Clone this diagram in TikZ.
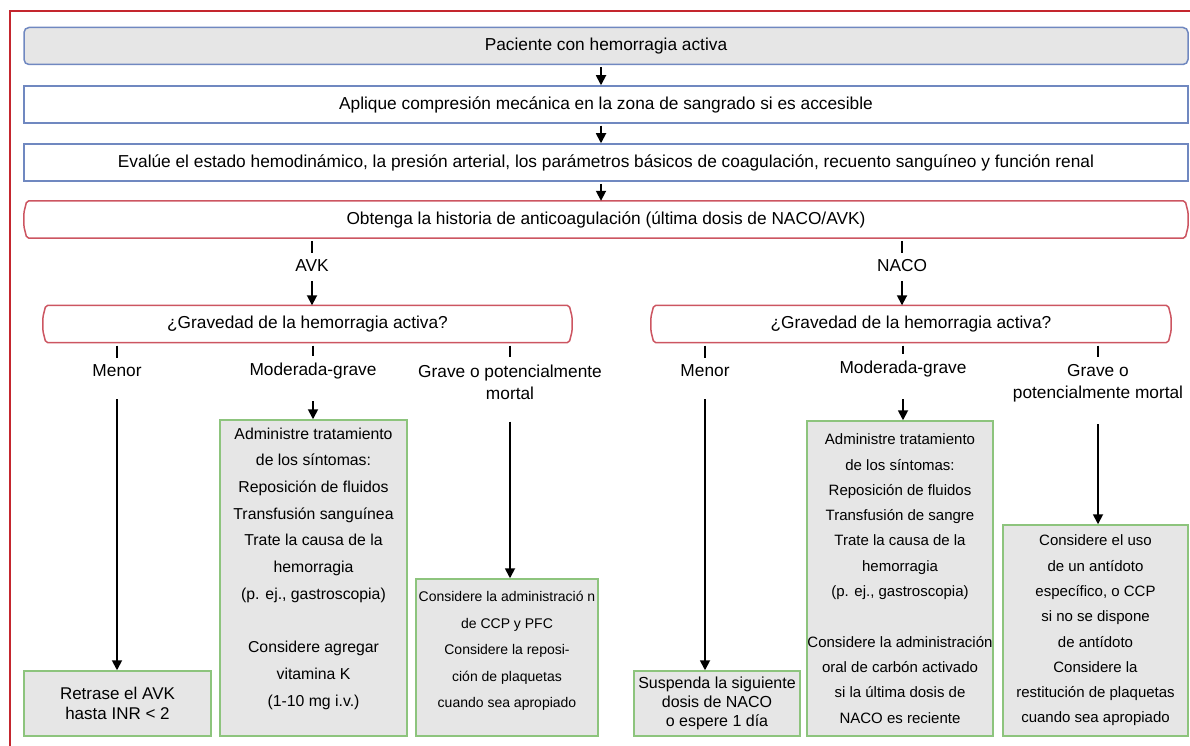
\documentclass[tikz,border=0pt]{standalone}
\usepackage{fontspec}
\setmainfont{Liberation Sans}
\usepackage{tikz}
\usetikzlibrary{arrows.meta}
\definecolor{framered}{HTML}{C4262E}
\definecolor{boxblue}{HTML}{7088C0}
\definecolor{hexred}{HTML}{CC5561}
\definecolor{boxgreen}{HTML}{8DC47D}
\definecolor{boxgray}{HTML}{E6E6E6}
\tikzset{
  topbox/.style = {draw=boxblue, line width=1.5pt, minimum width=1164pt, minimum height=37pt,
    inner sep=0pt, font=\fontsize{17.3}{21}\selectfont},
  hexbox/.style = {minimum height=37pt, inner sep=0pt, font=\fontsize{17.3}{21}\selectfont},
  hexdraw/.style = {draw=hexred, line width=1.5pt, rounded corners=2pt},
  greenbox/.style = {draw=boxgreen, fill=boxgray, line width=1.5pt, inner sep=0pt, align=center,
    font=\fontsize{15}{25.3}\selectfont},
  lbl/.style = {inner sep=4pt, align=center, font=\fontsize{17.3}{22}\selectfont},
  arr/.style = {-{Triangle[length=10pt, width=10pt]}, line width=1.8pt},
  stub/.style = {line width=1.8pt}
}
\newcommand{\hexoutline}[1]{%
  \draw[hexdraw] ([xshift=3pt]#1.north west) -- ([xshift=-3pt]#1.north east)
    -- ([yshift=-12pt]#1.north east) -- ([yshift=12pt]#1.south east)
    -- ([xshift=-3pt]#1.south east) -- ([xshift=3pt]#1.south west)
    -- ([yshift=12pt]#1.south west) -- ([yshift=-12pt]#1.north west) -- cycle;}

\begin{document}
\begin{tikzpicture}[x=1pt, y=-1pt]
    \useasboundingbox (0,0) rectangle (1190,746);
    \draw[framered, line width=1.6pt] (10,746) -- (10,11) -- (1190,11);

    \node[topbox, fill=boxgray, rounded corners=5pt] (patient) at (606,46) {Paciente con hemorragia activa};
    \node[topbox, fill=white] (compress) at (606,104.5) {Aplique compresión mecánica en la zona de sangrado si es accesible};
    \node[topbox, fill=white] (assess) at (606,162.5) {Evalúe el estado hemodinámico, la presión arterial, los parámetros básicos de coagulación, recuento sanguíneo y función renal};
    \node[hexbox, minimum width=1164pt] (history) at (606,219.5) {Obtenga la historia de anticoagulación (última dosis de NACO/AVK)};
    \hexoutline{history}

    \foreach \a/\b in {patient/compress, compress/assess, assess/history}{
      \draw[arr, shorten <=2pt] ([xshift=-5pt]\a.south) -- ([xshift=-5pt]\b.north);
    }

    \node[lbl] (avk) at (312,266) {AVK};
    \node[lbl] (naco) at (902,266) {NACO};

    \node[hexbox, minimum width=529pt] (sevavk) at (307.5,324) {¿Gravedad de la hemorragia activa?};
    \hexoutline{sevavk}
    \node[hexbox, minimum width=520pt] (sevnaco) at (911,324) {¿Gravedad de la hemorragia activa?};
    \hexoutline{sevnaco}

    \foreach \l/\h in {avk/sevavk, naco/sevnaco}{
      \draw[stub, shorten <=3pt, shorten >=3pt] (history.south -| \l) -- (\l);
      \draw[arr, shorten <=5pt] (\l) -- (\l |- \h.north);
    }

    \node[lbl] (minoravk) at (117,371) {Menor};
    \node[lbl] (modavk) at (313,371) {Moderada-grave};
    \node[lbl] (graveavk) at (510,382) {Grave o potencialmente\\mortal};
    \node[lbl] (minornaco) at (705,371) {Menor};
    \node[lbl] (modnaco) at (903,369) {Moderada-grave};
    \node[lbl] (gravenaco) at (1098,383) {Grave o\\potencialmente mortal};

    \node[greenbox, minimum width=187pt, minimum height=65pt, font=\fontsize{17}{20}\selectfont] (delayavk) at (117.5,703.5)
      {Retrase el AVK\\hasta INR < 2};
    \node[greenbox, minimum width=187pt, minimum height=316pt, font=\fontsize{15.8}{26.7}\selectfont] (treatavk) at (313.5,578)
      {Administre tratamiento\\de los síntomas:\\Reposición de fluidos\\Transfusión sanguínea\\Trate la causa de la\\hemorragia\\(p. ej., gastroscopia)\\[26.7pt]Considere agregar\\vitamina K\\(1-10 mg i.v.)\\[-4.5pt]\mbox{}};
    \node[greenbox, minimum width=182pt, minimum height=157pt, font=\fontsize{14}{26.5}\selectfont] (ccpavk) at (507,657.5)
      {Considere la administració n\\de CCP y PFC\\Considere la reposi-\\ción de plaquetas\\cuando sea apropiado\\[-10.5pt]\mbox{}};
    \node[greenbox, minimum width=166pt, minimum height=65pt, font=\fontsize{16}{19}\selectfont] (skipnaco) at (717,703.5)
      {Suspenda la siguiente\\dosis de NACO\\o espere 1 día};
    \node[greenbox, minimum width=186pt, minimum height=315pt] (treatnaco) at (900,578.5)
      {Administre tratamiento\\de los síntomas:\\Reposición de fluidos\\Transfusión de sangre\\Trate la causa de la\\hemorragia\\(p. ej., gastroscopia)\\[25.3pt]Considere la administración\\oral de carbón activado\\si la última dosis de\\NACO es reciente};
    \node[greenbox, minimum width=185pt, minimum height=211pt] (antinaco) at (1095.5,630.5)
      {Considere el uso\\de un antídoto\\específico, o CCP\\si no se dispone\\de antídoto\\Considere la\\restitución de plaquetas\\cuando sea apropiado};

    \foreach \l/\h in {minoravk/sevavk, modavk/sevavk, graveavk/sevavk, minornaco/sevnaco, modnaco/sevnaco, gravenaco/sevnaco}{
      \draw[stub, shorten <=3pt, shorten >=3pt] (\h.south -| \l) -- (\l);
    }
    \foreach \l/\b in {minoravk/delayavk, modavk/treatavk, graveavk/ccpavk, minornaco/skipnaco, modnaco/treatnaco, gravenaco/antinaco}{
      \draw[arr, shorten <=18pt] (\l) -- (\l |- \b.north);
    }
  \end{tikzpicture}
\end{document}
